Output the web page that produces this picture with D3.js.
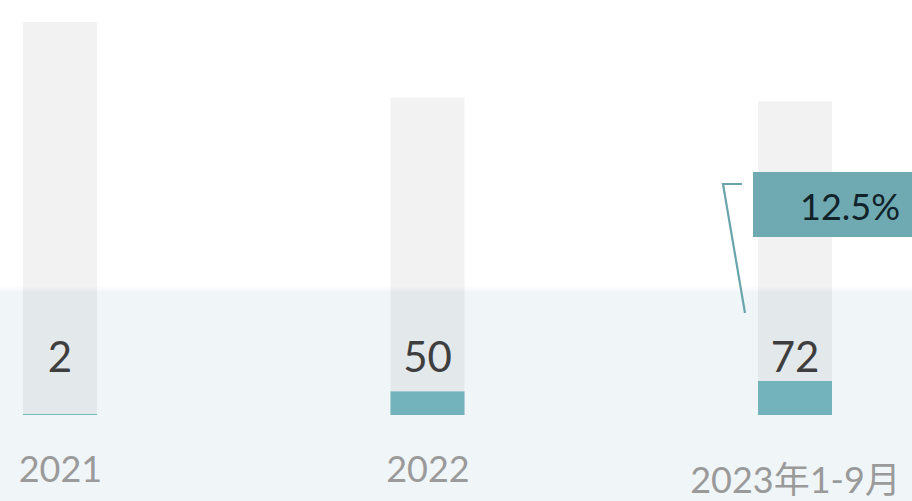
<!DOCTYPE html>
<html>
<head>
<meta charset="utf-8">
<script src="https://cdn.jsdelivr.net/npm/d3@7/dist/d3.min.js"></script>
<style>
  html, body { margin: 0; padding: 0; background: #ffffff; }
  svg { display: block; }
  text { font-family: Lato, "Noto Sans CJK SC", "Noto Sans", sans-serif; }
</style>
</head>
<body>
<svg id="chart" width="912" height="501"></svg>
<script>
// Period labels along the bottom
const categories = ["2021", "2022", "2023年1-9月"];
// Highlighted series (teal bars, labelled)
const values = [2, 50, 72];
// Background totals (light gray columns)
const totals = [832, 672, 664];
// Share callout attached to the last period
const calloutCategory = "2023年1-9月";
const calloutText = "12.5%";

const W = 912, H = 501;
const baseline = 415;
const barW = 74;

const svg = d3.select("#chart");

const x = d3.scalePoint().domain(categories).range([60, 795]);
const y = d3.scaleLinear().domain([0, 832]).range([baseline, 22]);

// soft light-blue band across the lower part
const defs = svg.append("defs");
const grad = defs.append("linearGradient")
  .attr("id", "band").attr("x1", 0).attr("x2", 0).attr("y1", 0).attr("y2", 1);
grad.append("stop").attr("offset", "0%").attr("stop-color", "#f0f5f8").attr("stop-opacity", 0);
grad.append("stop").attr("offset", "3%").attr("stop-color", "#f0f5f8").attr("stop-opacity", 1);
grad.append("stop").attr("offset", "100%").attr("stop-color", "#f0f5f8").attr("stop-opacity", 1);

svg.append("rect")
  .attr("x", 0).attr("y", 286).attr("width", W).attr("height", H - 286)
  .attr("fill", "url(#band)");

// background columns
svg.append("g").selectAll("rect")
  .data(categories)
  .join("rect")
  .attr("x", d => x(d) - barW / 2)
  .attr("width", barW)
  .attr("y", (d, i) => y(totals[i]))
  .attr("height", (d, i) => y(0) - y(totals[i]))
  .attr("fill", "#000000")
  .attr("fill-opacity", 0.05);

// value columns
svg.append("g").selectAll("rect")
  .data(categories)
  .join("rect")
  .attr("x", d => x(d) - barW / 2)
  .attr("width", barW)
  .attr("y", (d, i) => y(values[i]))
  .attr("height", (d, i) => y(0) - y(values[i]))
  .attr("fill", "#73b4bc");

// value labels
svg.append("g").selectAll("text")
  .data(categories)
  .join("text")
  .attr("x", d => x(d))
  .attr("y", baseline - 43)
  .attr("text-anchor", "middle")
  .attr("font-size", 42)
  .attr("fill", "#3e3e3e")
  .text((d, i) => values[i]);

// category axis
const axis = svg.append("g")
  .attr("transform", `translate(0,${baseline})`)
  .call(d3.axisBottom(x).tickSize(0).tickPadding(0));
axis.select(".domain").remove();
axis.selectAll("text")
  .attr("y", 67)
  .attr("dy", d => /[^\x00-\x7F]/.test(d) ? 11 : 0)
  .attr("font-size", 36)
  .attr("font-family", 'Lato, "Noto Sans CJK SC", sans-serif')
  .attr("fill", "#9a9a9a");

// share callout with leader line
const cx = x(calloutCategory);
const callout = svg.append("g");
callout.append("path")
  .attr("d", d3.line()([[cx - 53, 184], [cx - 72, 184], [cx - 50, 313]]))
  .attr("fill", "none")
  .attr("stroke", "#6aa4ac")
  .attr("stroke-width", 2.2);
callout.append("rect")
  .attr("x", cx - 42).attr("y", 172)
  .attr("width", W - (cx - 42) + 10).attr("height", 65)
  .attr("fill", "#6faab2");
callout.append("text")
  .attr("x", cx + 55).attr("y", 220)
  .attr("text-anchor", "middle")
  .attr("font-size", 36)
  .attr("fill", "#112229")
  .text(calloutText);
</script>
</body>
</html>
